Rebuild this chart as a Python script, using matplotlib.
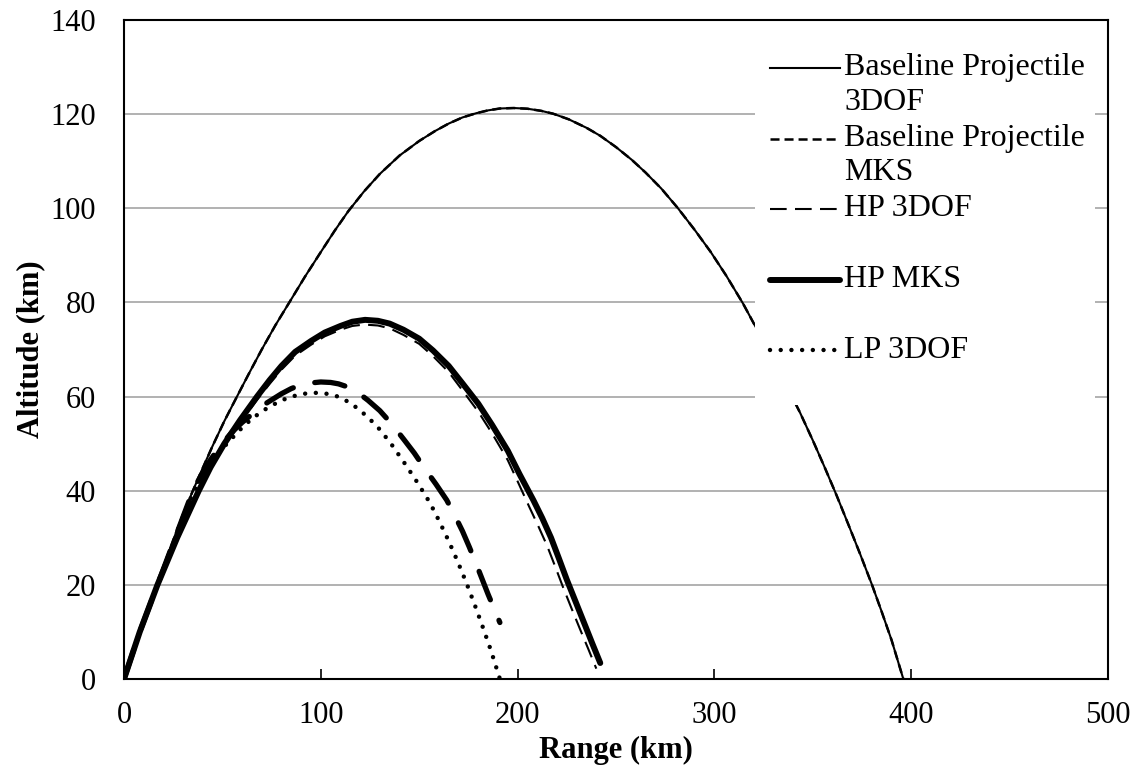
import matplotlib
matplotlib.use("Agg")
import matplotlib.pyplot as plt
from matplotlib.lines import Line2D
from matplotlib.patches import Rectangle

plt.rcParams["font.family"] = ["Liberation Serif", "DejaVu Serif"]
plt.rcParams["lines.scale_dashes"] = False

# trajectories: range (km), altitude (km)
base_3dof_x = [0, 4, 8, 12, 16.8, 21, 25, 30, 35, 40, 45, 51, 57.4, 64, 70, 77, 84, 92, 100, 107, 114,
               122, 130, 140, 150, 158, 165, 172, 179, 185, 191, 198, 205, 212, 218, 226, 235, 242, 250,
               258, 265, 273, 281.5, 290, 298, 306, 314.5, 322, 330, 337, 343.5, 350, 356, 362, 368,
               374, 380, 385, 390, 396]
base_3dof_y = [0, 5, 10, 14.6, 20, 25, 29.5, 35, 40, 44.8, 49.5, 54.8, 60, 65.3, 70, 75.2, 80, 85.5, 90.7,
               95.2, 99.4, 103.6, 107.3, 111.2, 114.3, 116.4, 118, 119.3, 120.2, 120.8, 121.2, 121.3,
               121.15, 120.7, 120.1, 118.9, 117.1, 115.4, 113, 110.3, 107.6, 104.2, 100, 95.4, 90.8,
               85.7, 79.8, 74, 68, 62, 56.6, 50.7, 45, 39.1, 32.9, 26.6, 20.1, 14.3, 8.3, 0]
base_mks_x = list(base_3dof_x)
base_mks_y = list(base_3dof_y)

hp_3dof_x = [0, 4, 8, 12.5, 17, 22, 27, 32.5, 38, 44, 51, 59, 67.6, 74, 80, 87, 95, 102, 110, 116, 122,
             129, 135, 142, 150, 157, 165, 172, 180, 187, 195, 200, 206, 210.5, 215, 219, 223, 227.5,
             232, 236, 240]
hp_3dof_y = [0, 5, 10, 15, 20, 25, 30, 35, 40, 44.7, 49.6, 54.4, 59.3, 62.7, 65.7, 68.7, 71, 72.8, 74.2,
             75, 75.3, 75.1, 74.5, 73.1, 71.2, 68.6, 65.2, 61.3, 56.8, 52.2, 46.5, 42, 36.5, 32.5, 28.3,
             24, 19.6, 14.9, 10.3, 6.3, 2.2]

hp_mks_x = [0, 4, 8, 12.5, 17, 22, 27, 32.5, 38, 44, 51, 59, 67.6, 74, 80, 87, 95, 102, 110, 116, 122.5,
            129, 135, 142, 150, 157, 165, 172, 180, 187, 195, 201, 208, 212.5, 217, 221, 225, 229.5,
            234, 238, 242]
hp_mks_y = [0, 5, 10, 15, 20, 25, 30, 35, 40, 45, 50, 55, 60, 63.5, 66.5, 69.5, 71.8, 73.6, 75, 75.9,
            76.3, 76.1, 75.5, 74.2, 72.3, 69.8, 66.5, 62.8, 58.5, 54, 48.5, 43.5, 38, 34.2, 30, 25.6,
            21.1, 16.4, 11.7, 7.5, 3.4]

lp_3dof_x = [0, 4, 8, 12.5, 17, 21.5, 26, 30.5, 35, 39.5, 43.7, 49, 55, 60, 65, 71, 77.7, 83, 88, 93, 98,
             103, 108, 113, 118.4, 124, 130, 136, 142, 149, 155.5, 160, 165, 169.5, 174, 178, 182,
             186.5, 191]
lp_3dof_y = [0, 5, 10, 15, 20, 25, 30, 35, 39.5, 42.8, 45.5, 48.5, 51.2, 53.4, 55.3, 57.1, 58.7, 59.7,
             60.3, 60.7, 60.8, 60.6, 60.1, 59.1, 57.6, 55.6, 53, 49.8, 46.2, 41.8, 37.4, 33.7, 29.3, 25,
             20.4, 16, 11.4, 6, 0]

lp_mks_x = [0, 4, 8, 12.5, 17, 21.5, 26, 30.5, 35, 39.5, 44, 49.5, 55, 60, 65.5, 72, 80, 85, 90, 95, 100,
            105, 109, 114, 118.4, 124, 130, 136, 142, 147.5, 153, 158.5, 164, 168, 172, 175.5, 179,
            182, 185, 188, 191]
lp_mks_y = [0, 5, 10, 15, 20, 25, 30, 35, 40, 43.5, 46.6, 49.8, 52.5, 54.5, 56.4, 58.5, 60.6, 61.7,
            62.5, 62.9, 63.1, 63, 62.7, 62, 61, 59.2, 57, 54.2, 51, 48, 44.6, 41.4, 38, 34.8, 31.4, 28,
            24.4, 21.2, 18, 15, 12]

series = [
    ("Baseline Projectile\n3DOF", base_3dof_x, base_3dof_y, dict(lw=1.5, ls="-")),
    ("Baseline Projectile\nMKS", base_mks_x, base_mks_y, dict(lw=1.8, ls=(0, (6.5, 3.6)))),
    ("HP 3DOF", hp_3dof_x, hp_3dof_y, dict(lw=1.5, ls=(0, (12, 6)))),
    ("HP MKS", hp_mks_x, hp_mks_y, dict(lw=4.3, ls="-", solid_capstyle="round")),
    ("LP 3DOF", lp_3dof_x, lp_3dof_y, dict(lw=3.2, ls=(0, (0.01, 7.7)), dash_capstyle="round")),
    (None, lp_mks_x, lp_mks_y, dict(lw=3.8, ls=(0, (22, 16)), dash_capstyle="round")),
]

fig = plt.figure(figsize=(11.44, 7.69), dpi=100)
ax = fig.add_axes([124 / 1144, 90 / 769, 984 / 1144, 659 / 769])

for label, xs, ys, style in series:
    ax.plot(xs, ys, color="black", zorder=3, **style)

ax.set_xlim(0, 500)
ax.set_ylim(0, 140)
ax.set_xticks(range(0, 501, 100))
ax.set_yticks(range(0, 141, 20))
ax.yaxis.grid(True, color="#9c9c9c", lw=1.1)
ax.set_axisbelow(True)
for sp in ax.spines.values():
    sp.set_linewidth(1.5)
    sp.set_color("black")
ax.tick_params(axis="x", direction="in", length=7, width=1.2, pad=16, labelsize=22)
ax.tick_params(axis="y", length=0, pad=20, labelsize=22)
ax.set_xlabel("Range (km)", fontsize=22, fontweight="bold", labelpad=4)
ax.set_ylabel("Altitude (km)", fontsize=22, fontweight="bold", labelpad=4)

# legend drawn by hand so the key sits on the first text line, as in the original
ax.add_patch(Rectangle((0.641, 0.416), 0.346, 0.576, transform=ax.transAxes,
                       facecolor="white", edgecolor="none", zorder=5))
fy = lambda py: (679 - py) / 659
for i, (label, xs, ys, style) in enumerate(series):
    if label is None:
        continue
    y0 = 68 + 70.5 * i
    ax.add_line(Line2D([0.6565, 0.7276], [fy(y0)] * 2, transform=ax.transAxes,
                       color="black", zorder=6, **style))
    for j, line in enumerate(label.split("\n")):
        ax.text(0.7317, fy(y0 + 34.5 * j), line, transform=ax.transAxes,
                fontsize=23, va="center", ha="left", zorder=6)

fig.savefig("out.png", dpi=100)
